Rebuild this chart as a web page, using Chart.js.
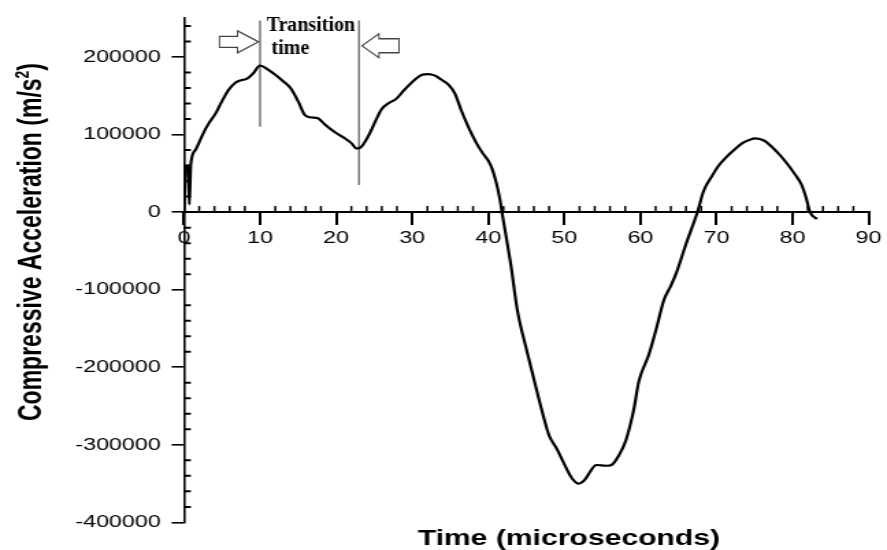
<!DOCTYPE html>
<html>
<head>
<meta charset="utf-8">
<script src="https://cdn.jsdelivr.net/npm/chart.js@4/dist/chart.umd.min.js"></script>
<style>
  body { margin: 0; background: #fff; }
</style>
</head>
<body>
<canvas id="c" width="648" height="550" style="width:887px;height:550px;display:block"></canvas>
<script>
// the original figure is stretched sideways, so the canvas is drawn narrow and widened by css
const S = 887 / 648

const timeUs = [0, 0.25, 0.55, 0.7, 0.9, 1.5, 2.5, 3.3, 4.2, 5.0, 5.9, 6.8, 7.5, 8.3, 9.1, 10.0, 11.0, 12.0, 13.0, 14.0,
  15.0, 15.9, 16.8, 17.6, 18.3, 19.0, 20.0, 21.0, 22.0, 22.7, 23.3, 24.0, 24.5, 25.2, 26.0, 27.0, 27.9, 29.0, 30.5, 31.3,
  32.1, 33.0, 33.8, 34.8, 35.6, 36.5, 37.7, 38.5, 39.2, 40.3, 41.0, 41.5, 41.8, 43.0, 43.8, 45.1, 46.4, 47.3, 48.0, 49.0,
  49.9, 51.0, 51.9, 52.7, 53.5, 54.2, 55.5, 56.2, 57.2, 58.1, 59.1, 59.8, 61.1, 62.1, 63.1, 64.0, 64.7, 66.0, 67.5, 68.3,
  69.5, 70.3, 71.2, 72.3, 73.4, 74.3, 75.1, 76.3, 77.3, 78.4, 79.4, 80.3, 81.2, 81.8, 82.3, 83.2]
const accel = [0, 58000, 60000, 10000, 62000, 80000, 101000, 115000, 128000, 143000, 158000, 167000, 170000, 172000, 179000, 189000, 184000, 177000, 169000, 160000,
  143000, 125000, 122000, 121000, 115000, 109000, 102000, 96000, 89000, 82000, 84000, 94000, 103000, 118000, 133000, 141000, 146000, 158000, 172000, 177000,
  178000, 176000, 171000, 164000, 153000, 130000, 103000, 88000, 77000, 61000, 40000, 18000, 0, -70000, -125000, -180000, -231000, -265000, -288000, -305000,
  -323000, -343000, -350000, -345000, -333000, -326000, -327000, -326000, -313000, -294000, -256000, -218000, -184000, -150000, -113000, -95000, -79000, -41000, 0, 27000,
  48000, 60000, 70000, 80000, 89000, 93000, 95000, 92000, 84000, 73000, 61000, 49000, 35000, 18000, 0, -9000]

const xTicks = [0, 10, 20, 30, 40, 50, 60, 70, 80, 90]
const yTicks = [-400000, -300000, -200000, -100000, 0, 100000, 200000]

// the two "transition time" markers
const markStart = [{x: 10, y: 110000}, {x: 10, y: 247000}]
const markEnd = [{x: 23, y: 35000}, {x: 23, y: 247000}]

const extras = {
  id: 'extras',
  afterDraw(chart) {
    const ctx = chart.ctx
    const sx = chart.scales.x, sy = chart.scales.y
    const x0 = sx.getPixelForValue(0), y0 = sy.getPixelForValue(0)

    // minor ticks
    ctx.save()
    ctx.strokeStyle = '#000'
    ctx.lineWidth = 1.5
    ctx.beginPath()
    for (let v = 2; v < 90; v += 2) {
      if (v % 10 === 0) continue
      const px = sx.getPixelForValue(v)
      ctx.moveTo(px, y0)
      ctx.lineTo(px, y0 - 6)
    }
    ctx.stroke()
    ctx.lineWidth = 2
    ctx.beginPath()
    for (let v = -380000; v <= 240000; v += 20000) {
      if (v % 100000 === 0) continue
      const py = sy.getPixelForValue(v)
      ctx.moveTo(x0, py)
      ctx.lineTo(x0 + 5, py)
    }
    ctx.stroke()
    ctx.restore()

    // arrows and the label were pasted on unstretched
    const arrow = (tx, ty, pts) => {
      ctx.save()
      ctx.translate(sx.getPixelForValue(tx), sy.getPixelForValue(ty))
      ctx.scale(1 / S, 1)
      ctx.beginPath()
      pts.forEach((p, i) => i ? ctx.lineTo(p[0], p[1]) : ctx.moveTo(p[0], p[1]))
      ctx.closePath()
      ctx.fillStyle = '#fff'
      ctx.fill()
      ctx.strokeStyle = '#444'
      ctx.lineWidth = 1.3
      ctx.stroke()
      ctx.restore()
    }
    arrow(9.8, 219500, [[-39, -5.5], [-21, -5.5], [-21, -11], [0, 0], [-21, 11], [-21, 5.5], [-39, 5.5]])
    arrow(23.4, 214500, [[37, -7], [17, -7], [17, -12], [0, 0], [17, 12], [17, 7], [37, 7]])

    ctx.save()
    ctx.translate(sx.getPixelForValue(10), 0)
    ctx.scale(1 / S, 1)
    ctx.fillStyle = '#000'
    ctx.font = 'bold 20px "Liberation Serif"'
    ctx.textBaseline = 'alphabetic'
    ctx.fillText('Transition', 6.5, 31)
    ctx.fillText('time', 11.5, 54)
    ctx.restore()

    // axis titles
    ctx.save()
    ctx.fillStyle = '#000'
    ctx.font = 'bold 22px "Liberation Sans"'
    ctx.textAlign = 'center'
    ctx.fillText('Time (microseconds)', 415.6, 545)
    ctx.restore()

    ctx.save()
    ctx.translate(29.6, 242)
    ctx.rotate(-Math.PI / 2)
    ctx.fillStyle = '#000'
    const main = 'Compressive Acceleration (m/s'
    ctx.font = 'bold 23px "Liberation Sans"'
    const wMain = ctx.measureText(main).width
    const wClose = ctx.measureText(')').width
    ctx.font = 'bold 14px "Liberation Sans"'
    const wSup = ctx.measureText('2').width
    let start = -(wMain + wSup + wClose) / 2
    ctx.font = 'bold 23px "Liberation Sans"'
    ctx.fillText(main, start, 0)
    ctx.font = 'bold 14px "Liberation Sans"'
    ctx.fillText('2', start + wMain, -9)
    ctx.font = 'bold 23px "Liberation Sans"'
    ctx.fillText(')', start + wMain + wSup, 0)
    ctx.restore()
  }
}

new Chart(document.getElementById('c'), {
  type: 'line',
  data: {
    datasets: [
      {
        data: timeUs.map((t, i) => ({x: t, y: accel[i]})),
        borderColor: '#000',
        borderWidth: 2.2,
        pointRadius: 0,
        cubicInterpolationMode: 'monotone',
        fill: false
      },
      {data: markStart, borderColor: '#555', borderWidth: 1.2, pointRadius: 0},
      {data: markEnd, borderColor: '#555', borderWidth: 1.2, pointRadius: 0}
    ]
  },
  options: {
    responsive: false,
    animation: false,
    devicePixelRatio: 1,
    layout: {padding: {left: 0, top: 10, right: 10, bottom: 27.6}},
    plugins: {legend: {display: false}, tooltip: {enabled: false}},
    scales: {
      x: {
        type: 'linear',
        min: 0,
        max: 90,
        position: {y: 0},
        afterBuildTicks: s => { s.ticks = xTicks.map(v => ({value: v})) },
        ticks: {
          autoSkip: false,
          maxRotation: 0,
          padding: 4,
          color: '#000',
          font: {family: 'Liberation Sans', size: 17}
        },
        grid: {drawOnChartArea: false, drawTicks: true, tickLength: 12, color: '#000', lineWidth: 2},
        border: {display: true, color: '#000', width: 2}
      },
      y: {
        type: 'linear',
        min: -400000,
        max: 250000,
        afterBuildTicks: s => { s.ticks = yTicks.map(v => ({value: v})) },
        afterFit: s => { s.width = 134.4 },
        ticks: {
          autoSkip: false,
          padding: 8,
          color: '#000',
          font: {family: 'Liberation Sans', size: 17},
          callback: v => String(v)
        },
        grid: {drawOnChartArea: false, drawTicks: true, tickLength: 9, color: '#000', lineWidth: 1.6},
        border: {display: true, color: '#000', width: 1.6}
      }
    }
  },
  plugins: [extras]
})
</script>
</body>
</html>
